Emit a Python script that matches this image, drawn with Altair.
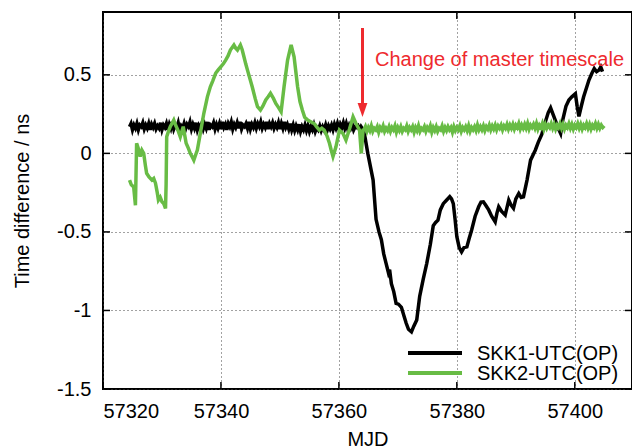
import altair as alt
import pandas as pd

# ---------------- data ----------------
series_names = ["SKK1-UTC(OP)", "SKK2-UTC(OP)"]

# SKK1 flat part: start MJD 57324.5, every 0.25 d
skk1_flat_start = 57324.5
skk1_flat_vals = [
    0.17, 0.19, 0.15, 0.18, 0.16, 0.19, 0.15, 0.18, 0.17, 0.195,
    0.155, 0.18, 0.16, 0.19, 0.15, 0.185, 0.165, 0.19, 0.155, 0.175,
    0.16, 0.195, 0.15, 0.18, 0.165, 0.19, 0.15, 0.185, 0.16, 0.2,
    0.155, 0.18, 0.165, 0.195, 0.15, 0.175, 0.16, 0.19, 0.155, 0.185,
    0.17, 0.2, 0.155, 0.185, 0.16, 0.195, 0.15, 0.18, 0.165, 0.19,
    0.155, 0.185, 0.16, 0.2, 0.15, 0.18, 0.17, 0.195, 0.155, 0.185,
    0.16, 0.19, 0.155, 0.2, 0.165, 0.185, 0.15, 0.19, 0.17, 0.2,
    0.155, 0.185, 0.165, 0.195, 0.16, 0.2, 0.155, 0.18, 0.17, 0.19,
    0.16, 0.2, 0.155, 0.185, 0.165, 0.195, 0.16, 0.19, 0.17, 0.2,
    0.16, 0.185, 0.165, 0.2, 0.155, 0.19, 0.17, 0.195, 0.16, 0.185,
    0.165, 0.195, 0.155, 0.19, 0.16, 0.2, 0.165, 0.185, 0.155, 0.19,
    0.15, 0.18, 0.145, 0.175, 0.15, 0.185, 0.14, 0.17, 0.15, 0.18,
    0.145, 0.175, 0.14, 0.17, 0.15, 0.18, 0.14, 0.165, 0.15, 0.175,
    0.145, 0.17, 0.15, 0.18, 0.145, 0.175, 0.155, 0.18, 0.15, 0.185,
    0.16, 0.19, 0.155, 0.185, 0.165, 0.195, 0.16, 0.19, 0.155, 0.18,
    0.16, 0.185, 0.15, 0.17, 0.165, 0.175, 0.15,
]
# SKK1 after change of master timescale
skk1_mjd = [
    57363.75, 57364.1, 57364.4, 57364.9, 57365.8, 57366.3, 57366.8, 57367.2, 57367.6, 57368.0,
    57368.4, 57368.6, 57368.9, 57369.3, 57369.7, 57370.1, 57370.6, 57371.0, 57371.4, 57371.8,
    57372.3, 57372.7, 57373.2, 57373.5, 57373.7, 57374.3, 57374.9, 57375.5, 57376.0, 57376.4,
    57376.8, 57377.2, 57377.7, 57378.2, 57378.8, 57379.1, 57379.4, 57379.7, 57380.0, 57380.4,
    57380.8, 57381.2, 57381.7, 57382.1, 57382.5, 57383.1, 57383.7, 57384.1, 57384.5, 57384.9,
    57385.4, 57385.9, 57386.5, 57386.8, 57387.1, 57387.6, 57388.2, 57388.8, 57389.2, 57389.6,
    57390.0, 57390.5, 57390.9, 57391.3, 57391.9, 57392.5, 57393.3, 57393.8, 57394.4, 57395.0,
    57395.5, 57395.9, 57396.3, 57396.7, 57397.2, 57397.6, 57398.0, 57398.5, 57399.0, 57399.5,
    57400.1, 57400.4, 57400.7, 57401.1, 57401.5, 57402.0, 57402.4, 57402.9, 57403.3, 57403.7,
    57404.1, 57404.4, 57404.7,
]
skk1_vals = [
    0.17, 0.15, 0.11, 0.0, -0.17, -0.42, -0.5, -0.55, -0.64, -0.70,
    -0.76, -0.74, -0.83, -0.88, -0.955, -0.96, -0.98, -1.03, -1.08, -1.12,
    -1.136, -1.10, -1.06, -0.97, -0.91, -0.80, -0.70, -0.58, -0.46, -0.44,
    -0.425, -0.36, -0.32, -0.30, -0.276, -0.29, -0.32, -0.42, -0.53, -0.60,
    -0.627, -0.60, -0.595, -0.54, -0.489, -0.40, -0.34, -0.31, -0.308, -0.33,
    -0.36, -0.40, -0.436, -0.38, -0.34, -0.37, -0.393, -0.297, -0.33, -0.35,
    -0.29, -0.255, -0.28, -0.276, -0.17, -0.043, 0.02, 0.07, 0.12, 0.2,
    0.26, 0.29, 0.25, 0.21, 0.16, 0.127, 0.22, 0.30, 0.34, 0.36,
    0.38, 0.30, 0.235, 0.30, 0.36, 0.42, 0.467, 0.51, 0.54, 0.52,
    0.53, 0.55, 0.52,
]

# SKK2 before the change
skk2_mjd = [
    57324.5, 57324.8, 57325.2, 57325.5, 57325.7, 57326.0, 57326.3, 57326.6, 57326.9, 57327.2,
    57327.4, 57327.8, 57328.3, 57328.6, 57328.9, 57329.2, 57329.4, 57329.7, 57330.0, 57330.3,
    57330.6, 57330.7, 57330.8, 57331.1, 57331.4, 57332.0, 57332.3, 57332.7, 57333.1, 57333.6,
    57334.1, 57334.5, 57334.8, 57335.1, 57335.4, 57335.7, 57336.0, 57336.5, 57337.1, 57337.7,
    57338.2, 57338.6, 57339.1, 57339.5, 57340.0, 57340.4, 57340.8, 57341.2, 57341.6, 57342.2,
    57342.5, 57342.8, 57343.3, 57343.6, 57343.9, 57344.2, 57344.5, 57345.3, 57345.8, 57346.2,
    57346.7, 57347.1, 57347.6, 57348.0, 57348.4, 57348.9, 57349.3, 57349.8, 57350.2, 57350.7,
    57351.3, 57351.9, 57352.4, 57353.0, 57353.4, 57353.8, 57354.2, 57354.7, 57355.3, 57355.8,
    57356.2, 57356.7, 57357.1, 57357.5, 57358.0, 57358.4, 57358.7, 57359.0, 57359.5, 57360.1,
    57360.7, 57361.2, 57361.8, 57362.4, 57362.9, 57363.5, 57363.8, 57364.1,
]
skk2_vals = [
    -0.17, -0.2, -0.213, -0.33, 0.064, 0.03, -0.02, 0.02, 0.0, -0.08,
    -0.127, -0.15, -0.17, -0.16, -0.19, -0.25, -0.297, -0.28, -0.308, -0.32,
    -0.35, -0.2, 0.106, 0.14, 0.17, 0.212, 0.18, 0.148, 0.106, 0.17,
    0.064, 0.03, 0.0, -0.02, -0.043, -0.01, 0.021, 0.127, 0.255, 0.36,
    0.424, 0.46, 0.51, 0.53, 0.552, 0.57, 0.594, 0.62, 0.658, 0.69,
    0.67, 0.658, 0.69, 0.66, 0.615, 0.57, 0.53, 0.424, 0.35, 0.297,
    0.276, 0.30, 0.34, 0.36, 0.382, 0.35, 0.318, 0.29, 0.265, 0.424,
    0.594, 0.69, 0.615, 0.424, 0.33, 0.276, 0.23, 0.212, 0.20, 0.19,
    0.17, 0.148, 0.16, 0.148, 0.11, 0.064, 0.02, -0.02, 0.042, 0.148,
    0.127, 0.085, 0.155, 0.233, 0.19, 0.148, 0.0, 0.148,
]
# SKK2 flat part after the change: start MJD 57364.25, every 0.25 d
skk2_flat_start = 57364.25
skk2_flat_vals = [
    0.15, 0.17, 0.14, 0.165, 0.145, 0.175, 0.14, 0.16, 0.15, 0.17,
    0.135, 0.165, 0.15, 0.175, 0.14, 0.16, 0.145, 0.17, 0.14, 0.165,
    0.15, 0.175, 0.135, 0.165, 0.145, 0.17, 0.14, 0.16, 0.15, 0.175,
    0.14, 0.165, 0.15, 0.17, 0.135, 0.165, 0.145, 0.175, 0.14, 0.16,
    0.15, 0.17, 0.14, 0.165, 0.15, 0.175, 0.135, 0.165, 0.145, 0.17,
    0.14, 0.16, 0.15, 0.175, 0.14, 0.165, 0.145, 0.17, 0.15, 0.165,
    0.135, 0.17, 0.145, 0.165, 0.15, 0.175, 0.14, 0.165, 0.15, 0.17,
    0.145, 0.175, 0.14, 0.165, 0.15, 0.17, 0.145, 0.18, 0.15, 0.17,
    0.15, 0.175, 0.145, 0.17, 0.155, 0.18, 0.15, 0.175, 0.155, 0.18,
    0.15, 0.175, 0.16, 0.18, 0.15, 0.175, 0.16, 0.185, 0.155, 0.18,
    0.16, 0.185, 0.155, 0.18, 0.165, 0.19, 0.155, 0.18, 0.16, 0.185,
    0.16, 0.19, 0.155, 0.18, 0.165, 0.185, 0.16, 0.19, 0.155, 0.18,
    0.165, 0.19, 0.155, 0.185, 0.16, 0.18, 0.165, 0.19, 0.16, 0.185,
    0.155, 0.18, 0.165, 0.19, 0.16, 0.185, 0.155, 0.18, 0.165, 0.19,
    0.16, 0.185, 0.155, 0.18, 0.165, 0.19, 0.16, 0.185, 0.155, 0.18,
    0.165, 0.19, 0.16, 0.185, 0.155, 0.18, 0.165, 0.19, 0.16, 0.185,
    0.16, 0.18, 0.165, 0.175,
]
sample_step = 0.25

x_ticks = [57320, 57340, 57360, 57380, 57400]
y_ticks = [-1.5, -1, -0.5, 0, 0.5]
x_domain = [57320, 57409.7]
y_domain = [-1.5, 0.9]

annotation_text = "Change of master timescale"
arrow_mjd = [57364]
arrow_top = [0.798]
arrow_bottom = [0.31]
arrow_head = [0.276]

# ---------------- build tables ----------------
rows = []
for i, v in enumerate(skk1_flat_vals):
    rows.append({"mjd": skk1_flat_start + i * sample_step, "val": v, "series": series_names[0]})
for m, v in zip(skk1_mjd, skk1_vals):
    rows.append({"mjd": m, "val": v, "series": series_names[0]})
for m, v in zip(skk2_mjd, skk2_vals):
    rows.append({"mjd": m, "val": v, "series": series_names[1]})
for i, v in enumerate(skk2_flat_vals):
    rows.append({"mjd": skk2_flat_start + i * sample_step, "val": v, "series": series_names[1]})
df = pd.DataFrame(rows)
df["order"] = range(len(df))

W, H = 529, 377
FONT = "Liberation Sans"
BLACK = "#000000"
GREEN = "#68bc45"
RED = "#ee2a2e"

xs = alt.Scale(domain=x_domain, nice=False, zero=False)
ys = alt.Scale(domain=y_domain, nice=False, zero=False)

lines = alt.Chart(df).mark_line(strokeWidth=3.5, clip=True).encode(
    x=alt.X("mjd:Q", scale=xs, title="MJD",
            axis=alt.Axis(values=x_ticks, labelExpr="'' + datum.value",
                          labelPadding=12, titlePadding=8)),
    y=alt.Y("val:Q", scale=ys, title="Time difference / ns",
            axis=alt.Axis(values=y_ticks, labelExpr="'' + datum.value",
                          labelPadding=12, titlePadding=24)),
    color=alt.Color("series:N", scale=alt.Scale(domain=series_names, range=[BLACK, GREEN]), legend=None),
    order="order:Q",
)

xt = pd.DataFrame({"t": x_ticks})
yt = pd.DataFrame({"t": y_ticks})
tick_left = alt.Chart(yt).mark_rule(color="black", strokeWidth=1.5).encode(
    y=alt.Y("t:Q", scale=ys), x=alt.value(0), x2=alt.value(7))
tick_right = alt.Chart(yt).mark_rule(color="black", strokeWidth=1.5).encode(
    y=alt.Y("t:Q", scale=ys), x=alt.value(W - 7), x2=alt.value(W))
tick_bottom = alt.Chart(xt).mark_rule(color="black", strokeWidth=1.5).encode(
    x=alt.X("t:Q", scale=xs), y=alt.value(H - 7), y2=alt.value(H))
tick_top = alt.Chart(xt).mark_rule(color="black", strokeWidth=1.5).encode(
    x=alt.X("t:Q", scale=xs), y=alt.value(0), y2=alt.value(7))

arrow_df = pd.DataFrame({"mjd": arrow_mjd, "top": arrow_top, "bot": arrow_bottom, "head": arrow_head})
arrow_line = alt.Chart(arrow_df).mark_rule(color=RED, strokeWidth=3).encode(
    x=alt.X("mjd:Q", scale=xs), y=alt.Y("top:Q", scale=ys), y2="bot:Q")
arrow_tip = alt.Chart(arrow_df).mark_point(
    shape="M-0.7,-1L0.7,-1L0,1Z", filled=True, color=RED, size=196, opacity=1).encode(
    x=alt.X("mjd:Q", scale=xs), y=alt.Y("head:Q", scale=ys))

ann = alt.Chart(pd.DataFrame({"label": [annotation_text]})).mark_text(
    font=FONT, fontSize=20, color=RED, align="left", baseline="alphabetic").encode(
    x=alt.value(272), y=alt.value(53.7), text="label:N")

legend_layers = []
for i, (name, col) in enumerate(zip(series_names, [BLACK, GREEN])):
    ldf = pd.DataFrame({"name": [name]})
    legend_layers.append(alt.Chart(ldf).mark_rule(color=col, strokeWidth=4).encode(
        x=alt.value(305), x2=alt.value(359), y=alt.value(341 + 20 * i)))
    legend_layers.append(alt.Chart(ldf).mark_text(
        font=FONT, fontSize=20, color="black", align="left", baseline="alphabetic").encode(
        x=alt.value(374), y=alt.value(348 + 20 * i), text="name:N"))

chart = alt.layer(
    lines, tick_left, tick_right, tick_bottom, tick_top,
    arrow_line, arrow_tip, ann, *legend_layers
).properties(
    width=W, height=H,
    autosize=alt.AutoSizeParams(type="none"),
    padding={"left": 103, "top": 12, "right": 0, "bottom": 59},
).configure_axis(
    labelFont=FONT, titleFont=FONT, labelFontSize=20, titleFontSize=20,
    titleFontWeight="normal", labelColor="black", titleColor="black",
    grid=True, gridColor="#444444", gridDash=[1, 3], gridWidth=1, gridOpacity=1,
    ticks=False, domain=False,
).configure_view(stroke="black", strokeWidth=2)

chart.save("out.html", embed_options={"renderer": "svg", "actions": False})
